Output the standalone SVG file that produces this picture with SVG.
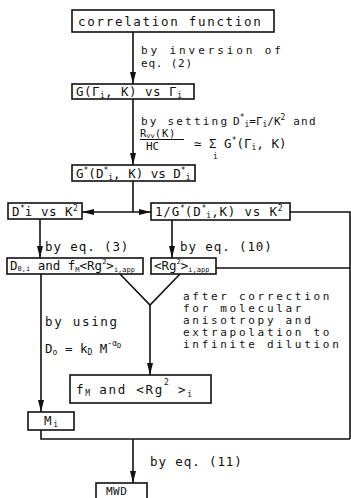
<svg xmlns="http://www.w3.org/2000/svg" width="351" height="498" viewBox="0 0 351 498">
<defs>
<style>
text{font-family:"DejaVu Sans Mono","Liberation Mono",monospace;font-size:12.5px;letter-spacing:1.7px;fill:#111}
.s{font-size:8px;letter-spacing:0px}
.t{letter-spacing:0px}
.h{letter-spacing:0.5px}
.p{font-size:11px;letter-spacing:2.7px}
.box{fill:#fff;stroke:#111;stroke-width:1.6}
.ln{fill:none;stroke:#111;stroke-width:1.6}
</style>
<marker id="ah" viewBox="0 0 12 6" refX="12" refY="3" markerWidth="12" markerHeight="6" markerUnits="userSpaceOnUse" orient="auto-start-reverse">
<path d="M0,0 L12,3 L0,6 Z" fill="#111"/>
</marker>
</defs>
<rect width="351" height="498" fill="#fff"/>
<g id="connectors">
<line class="ln" x1="133" y1="32" x2="133" y2="84" marker-end="url(#ah)"/>
<line class="ln" x1="133" y1="99" x2="133" y2="165" marker-end="url(#ah)"/>
<line class="ln" x1="133" y1="181" x2="133" y2="212"/>
<line class="ln" x1="82" y1="212" x2="151" y2="212" marker-start="url(#ah)" marker-end="url(#ah)"/>
<polyline class="ln" points="290,212 350,212 350,439"/>
<line class="ln" x1="40" y1="219" x2="40" y2="258" marker-end="url(#ah)"/>
<line class="ln" x1="172" y1="220" x2="172" y2="258" marker-end="url(#ah)"/>
<line class="ln" x1="216" y1="268" x2="350" y2="268"/>
<polyline class="ln" points="120,274 150,305 180,274"/>
<line class="ln" x1="150" y1="305" x2="150" y2="375" marker-end="url(#ah)"/>
<line class="ln" x1="41" y1="274" x2="41" y2="412" marker-end="url(#ah)"/>
<polyline class="ln" points="41,430 41,439 350,439"/>
<line class="ln" x1="133" y1="439" x2="133" y2="483" marker-end="url(#ah)"/>
</g>
<g id="labels">
<text class="p" x="141" y="54" style="letter-spacing:2.9px">by inversion of</text>
<text class="p" x="141" y="67" style="letter-spacing:0.8px">eq. (2)</text>
<text class="p" x="141" y="125" style="letter-spacing:2.2px">by setting</text>
<text class="t" x="233" y="125" style="font-size:11px">D<tspan class="s" dy="-5">*</tspan><tspan class="s" dy="7">i</tspan><tspan dy="-2">=Γ</tspan><tspan class="s" dy="2">i</tspan><tspan dy="-2">/K</tspan><tspan class="s" dy="-5">2</tspan><tspan dy="5" style="letter-spacing:1.2px"> and</tspan></text>
<text class="t" x="140" y="137" style="font-size:10.5px">R<tspan class="s" style="font-size:7px" dy="1">vv</tspan><tspan dy="-1" style="letter-spacing:0.8px">(K)</tspan></text>
<line x1="140" y1="139.5" x2="184" y2="139.5" stroke="#111" stroke-width="1.2"/>
<text class="t" x="146" y="150" style="font-size:11px">HC</text>
<text class="t" x="194" y="148">≃ Σ G<tspan class="s" dy="-5">*</tspan><tspan dy="5">(Γ</tspan><tspan class="s" dy="2">i</tspan><tspan dy="-2">, K)</tspan></text>
<text class="s" x="213" y="159">i</text>
<text x="45" y="251" style="letter-spacing:0.9px">by eq. (3)</text>
<text x="180" y="251" style="letter-spacing:0.9px">by eq. (10)</text>
<text x="45" y="326">by using</text>
<text class="t" x="45" y="353">D<tspan class="s" dy="2">o</tspan><tspan dy="-2"> = k</tspan><tspan class="s" dy="2">D</tspan><tspan dy="-2"> M</tspan><tspan class="s" dy="-7">-α</tspan><tspan class="s" style="font-size:7px" dy="2">D</tspan></text>
<text class="p" x="183" y="300">after correction</text>
<text class="p" x="183" y="312">for molecular</text>
<text class="p" x="183" y="324">anisotropy  and</text>
<text class="p" x="183" y="336">extrapolation to</text>
<text class="p" x="183" y="348">infinite dilution</text>
<text x="150" y="466" style="letter-spacing:0.9px">by eq. (11)</text>
</g>
<g id="n1"><rect class="box" x="72" y="10" width="202" height="22"/><text x="78" y="26">correlation function</text></g>
<g id="n2"><rect class="box" x="72" y="84" width="122" height="15"/><text class="h" x="76" y="96">G(Γ<tspan class="s" dy="2">i</tspan><tspan dy="-2">, K) vs Γ</tspan><tspan class="s" dy="2">i</tspan></text></g>
<g id="n3"><rect class="box" x="72" y="165" width="123" height="16"/><text class="t" x="76" y="178">G<tspan class="s" dy="-5">*</tspan><tspan dy="5">(D</tspan><tspan class="s" dy="-5">*</tspan><tspan class="s" dy="7">i</tspan><tspan dy="-2">, K) vs D</tspan><tspan class="s" dy="-5">*</tspan><tspan class="s" dy="7">i</tspan></text></g>
<g id="n4"><rect class="box" x="8" y="203" width="74" height="16"/><text class="h" x="12" y="216">D<tspan class="s" dy="-5">*</tspan><tspan dy="5">i vs K</tspan><tspan class="s" dy="-5">2</tspan></text></g>
<g id="n5"><rect class="box" x="151" y="203" width="139" height="17"/><text x="155" y="216" style="letter-spacing:0.8px">1/G<tspan class="s" dy="-5">*</tspan><tspan dy="5">(D</tspan><tspan class="s" dy="-5">*</tspan><tspan class="s" dy="7">i</tspan><tspan dy="-2">,K) vs K</tspan><tspan class="s" dy="-5">2</tspan></text></g>
<g id="n6"><rect class="box" x="7" y="258" width="136" height="16"/><text class="t" x="10" y="270">D<tspan class="s" style="font-size:7px" dy="1">0,i</tspan><tspan dy="-1"> and f</tspan><tspan class="s" style="font-size:7px" dy="2">M</tspan><tspan dy="-2">&lt;Rg</tspan><tspan class="s" style="font-size:7px" dy="-6">2</tspan><tspan dy="6">&gt;</tspan><tspan class="s" style="font-size:7px" dy="2">i,app</tspan></text></g>
<g id="n7"><rect class="box" x="151" y="258" width="65" height="16"/><text class="t" x="154" y="270">&lt;Rg<tspan class="s" style="font-size:7px" dy="-6">2</tspan><tspan dy="6">&gt;</tspan><tspan class="s" style="font-size:7px" dy="2">i,app</tspan></text></g>
<g id="n8"><rect class="box" x="70" y="375" width="141" height="28"/><text x="76" y="394">f<tspan class="s" dy="2">M</tspan><tspan dy="-2"> and &lt;Rg</tspan><tspan class="s" dy="-9">2</tspan><tspan dy="9"> &gt;</tspan><tspan class="s" dy="3">i</tspan></text></g>
<g id="n9"><rect class="box" x="28" y="412" width="46" height="18"/><text x="44" y="425">M<tspan class="s" dy="2">i</tspan></text></g>
<g id="n10"><rect class="box" x="96" y="483" width="51" height="20"/><text x="106" y="495" style="letter-spacing:0.5px;font-size:11px">MWD</text></g>
</svg>
